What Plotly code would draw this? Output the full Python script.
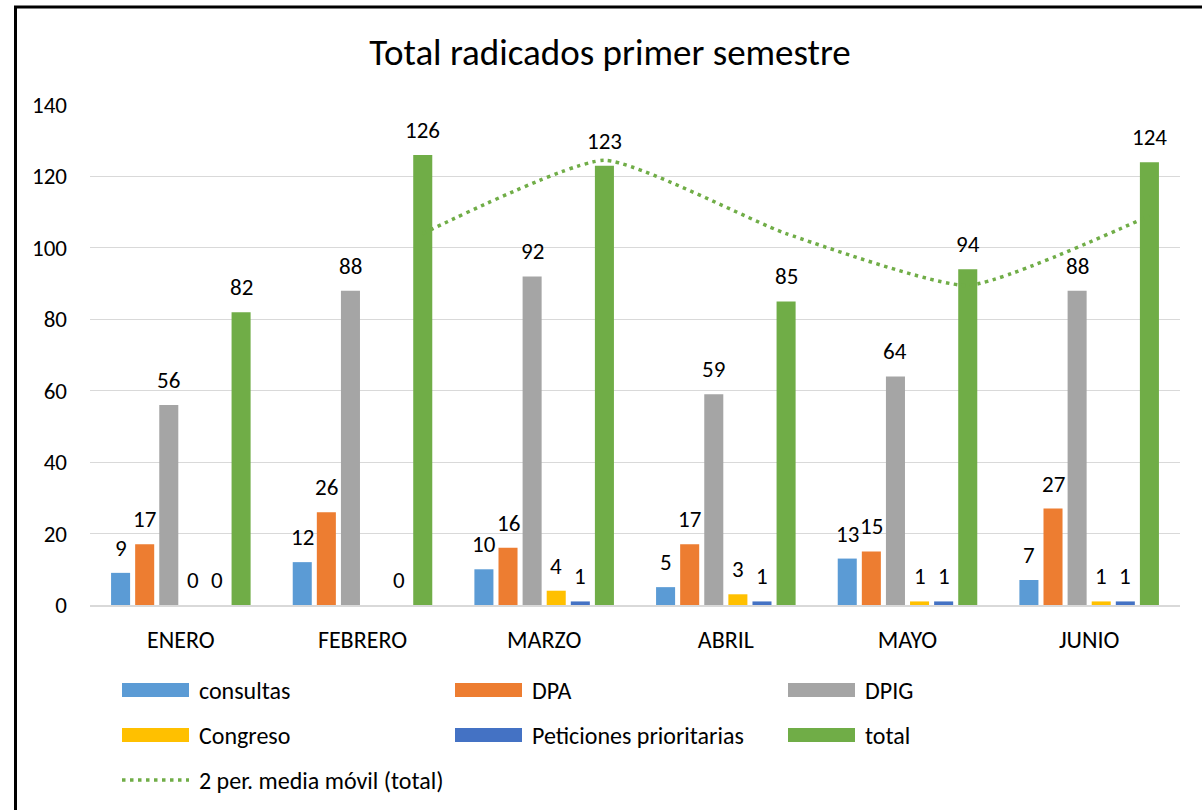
import plotly.graph_objects as go
import pandas as pd

months = ["ENERO", "FEBRERO", "MARZO", "ABRIL", "MAYO", "JUNIO"]
series_names = ["consultas", "DPA", "DPIG", "Congreso", "Peticiones prioritarias", "total"]
consultas = [9, 12, 10, 5, 13, 7]
dpa = [17, 26, 16, 17, 15, 27]
dpig = [56, 88, 92, 59, 64, 88]
congreso = [0, None, 4, 3, 1, 1]
peticiones = [0, 0, 1, 1, 1, 1]
total = [82, 126, 123, 85, 94, 124]
ma_name = "2 per. media móvil (total)"
y_ticks = [0, 20, 40, 60, 80, 100, 120, 140]

colors = ["#5B9BD5", "#ED7D31", "#A5A5A5", "#FFC000", "#4472C4", "#70AD47"]
values = [consultas, dpa, dpig, congreso, peticiones, total]

FONT = "Carlito, Lato, sans-serif"
TXT = "#000000"
BARGAP = 0.204
BARGROUPGAP = 0.21

W, H = 1202, 810
L, R, T, B = 90, 22, 105, 205
pw, ph = W - L - R, H - T - B

fig = go.Figure()
xs = list(range(len(months)))
nser = len(series_names)
slot = (1 - BARGAP) / nser

annotations = []
for k, (name, vals, col) in enumerate(zip(series_names, values, colors)):
    fig.add_trace(go.Bar(
        x=xs, y=vals, name=name, marker_color=col,
        marker_line_width=0, showlegend=False,
    ))
    off = (k - (nser - 1) / 2) * slot
    for i, v in zip(xs, vals):
        if v is None:
            continue
        annotations.append(dict(x=i + off, y=v, xref="x", yref="y", text=str(v),
                                showarrow=False, yanchor="middle", xanchor="center",
                                yshift=25, font=dict(family=FONT, size=23, color=TXT)))

# 2-period moving average of total, drawn at the total bar position
offset = (nser - 1) / 2 * slot
ma = pd.Series(total).rolling(2).mean()
ma_x = [i + offset for i in xs][1:]
ma_y = list(ma)[1:]
fig.add_trace(go.Scatter(
    x=ma_x, y=ma_y, mode="lines", name=ma_name,
    line=dict(color="#70AD47", width=3.5, dash="3.5px,4.5px", shape="spline", smoothing=0.5),
    showlegend=False, cliponaxis=False,
))

def px_to_paper(x, y):
    return (x - L) / pw, 1 - (y - T) / ph

# Excel-style legend
legend_items = [
    (series_names[0], colors[0], 122, 690, "bar"),
    (series_names[1], colors[1], 455, 690, "bar"),
    (series_names[2], colors[2], 788, 690, "bar"),
    (series_names[3], colors[3], 122, 735, "bar"),
    (series_names[4], colors[4], 455, 735, "bar"),
    (series_names[5], colors[5], 788, 735, "bar"),
    (ma_name, "#70AD47", 122, 780, "line"),
]
shapes = []
for name, col, x, y, kind in legend_items:
    if kind == "bar":
        x0, ytop = px_to_paper(x, y - 7)
        x1, ybot = px_to_paper(x + 67, y + 7)
        shapes.append(dict(type="rect", xref="paper", yref="paper", x0=x0, x1=x1, y0=ybot, y1=ytop,
                           fillcolor=col, line_width=0))
    else:
        x0, y0 = px_to_paper(x, y)
        x1, _ = px_to_paper(x + 67, y)
        shapes.append(dict(type="line", xref="paper", yref="paper", x0=x0, x1=x1, y0=y0, y1=y0,
                           line=dict(color=col, width=3.5, dash="3.5px,4.5px")))
    tx, ty = px_to_paper(x + 75, y)
    annotations.append(dict(text=name, xref="paper", yref="paper", x=tx, y=ty,
                            xanchor="left", yanchor="middle", showarrow=False,
                            font=dict(family=FONT, size=24, color=TXT)))

# outer chart frame (left/top visible)
fx0, fy1 = px_to_paper(15.5, 7)
fx1, fy0 = px_to_paper(1230, 840)
shapes.append(dict(type="rect", xref="paper", yref="paper", x0=fx0, x1=fx1, y0=fy0, y1=fy1,
                   line=dict(color="#000000", width=3), fillcolor="rgba(0,0,0,0)", layer="above"))

fig.update_layout(
    width=W, height=H,
    margin=dict(l=L, r=R, t=T, b=B),
    paper_bgcolor="white", plot_bgcolor="white",
    barmode="group", bargap=BARGAP, bargroupgap=BARGROUPGAP,
    title=dict(text="Total radicados primer semestre", x=610 / W, xref="container",
               xanchor="center", y=1 - 52 / H, yref="container", yanchor="middle",
               font=dict(family=FONT, size=37, color=TXT)),
    font=dict(family=FONT, color=TXT),
    xaxis=dict(tickvals=xs, ticktext=months, range=[-0.5, 5.5], showgrid=False,
               zeroline=False, showline=True, linecolor="#D9D9D9", linewidth=1.5,
               ticks="", tickfont=dict(family=FONT, size=24, color=TXT),
               ticklabelstandoff=12),
    yaxis=dict(range=[0, 140], tickvals=y_ticks, showgrid=True, gridcolor="#D9D9D9",
               gridwidth=1.2, zeroline=False, showline=False, ticks="",
               tickfont=dict(family=FONT, size=23, color=TXT),
               ticklabelstandoff=22),
    shapes=shapes,
    annotations=annotations,
)

fig.write_html("out.html", config={"displayModeBar": False},
               post_script="document.body.style.margin='0px';")
